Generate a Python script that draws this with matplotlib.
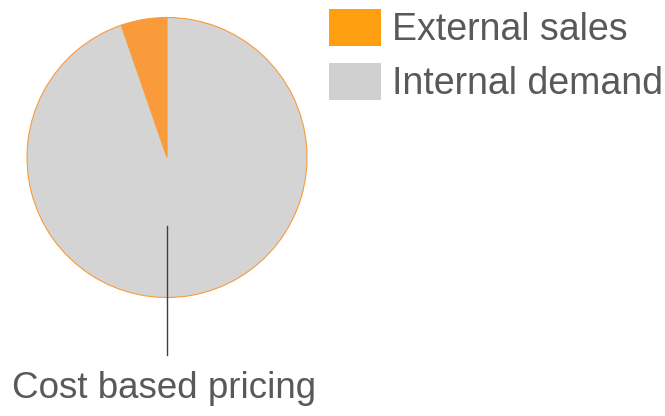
import matplotlib
matplotlib.use("Agg")
import matplotlib.pyplot as plt
from matplotlib.patches import Patch

plt.rcParams['font.family'] = ['Liberation Sans', 'DejaVu Sans']

labels = ['External sales', 'Internal demand']
shares = [5.3, 94.7]
slice_colors = ['#F99B3A', '#D4D4D4']
legend_colors = ['#FF9E0E', '#D0D0D0']
caption = 'Cost based pricing'
text_color = '#595959'

fig = plt.figure(figsize=(6.65, 4.16), dpi=100)
ax = fig.add_axes([27 / 665, 1 - 297.5 / 416, 280 / 665, 280 / 416])

ax.pie(shares, colors=slice_colors, startangle=90, counterclock=True,
       radius=1.0, wedgeprops=dict(edgecolor='#F99B3A', linewidth=0.8))
ax.set_xlim(-1, 1)
ax.set_ylim(-1, 1)
ax.set_aspect('equal')
ax.axis('off')

# leader line and caption under the pie
ax.plot([0, 0], [-0.49, -1.41], color='#404040', linewidth=1.0, clip_on=False)
ax.text(-0.02, -1.65, caption, ha='center', va='center', fontsize=26.5,
        color=text_color, clip_on=False)

handles = [Patch(facecolor=c, edgecolor='none') for c in legend_colors]
fig.legend(handles, labels, loc='upper left', bbox_to_anchor=(321 / 665, 1 - 1 / 416),
           frameon=False, fontsize=27, labelcolor=text_color,
           handlelength=1.39, handleheight=1.16, handletextpad=0.3,
           labelspacing=0.4, borderpad=0.2, borderaxespad=0)

fig.savefig('out.png', dpi=100)
